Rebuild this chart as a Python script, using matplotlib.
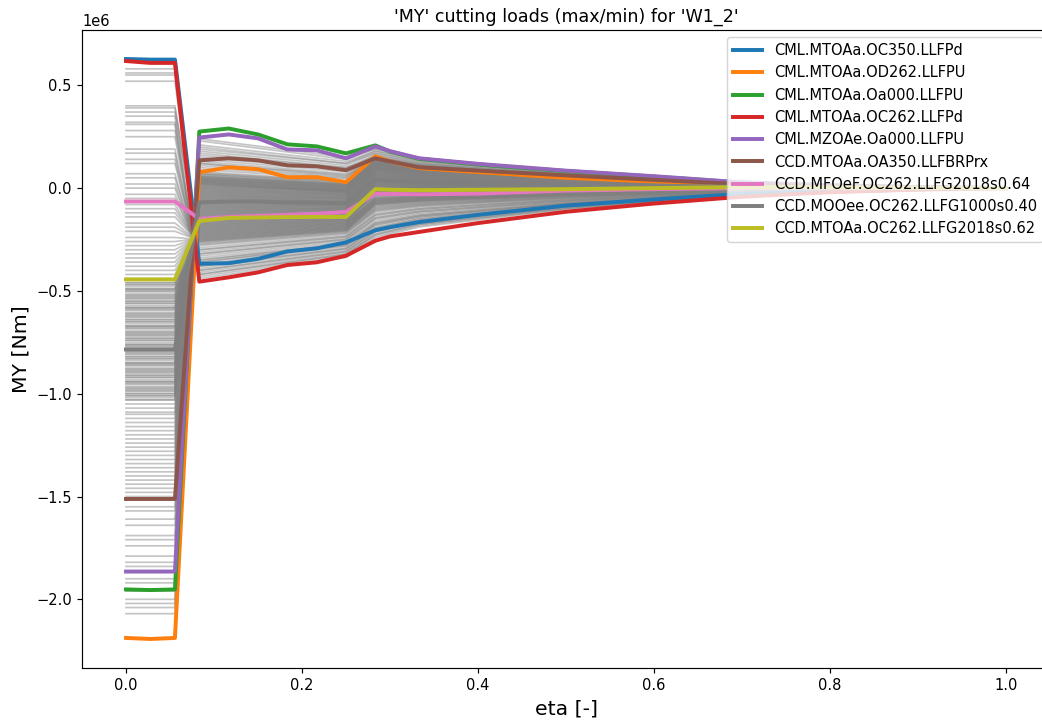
import numpy as np
import matplotlib
matplotlib.use("Agg")
import matplotlib.pyplot as plt

SCALE = 1e6  # values below are in MNm

# Spanwise stations of the cutting-load output
eta = [0.0, 0.0278, 0.0556, 0.0833, 0.1167, 0.15, 0.1833, 0.2167, 0.25,
       0.2833, 0.30, 0.3333, 0.40, 0.50, 0.60, 0.70, 0.80, 0.90, 1.0]

# Envelope-defining load cases
case_names = [
    "CML.MTOAa.OC350.LLFPd",
    "CML.MTOAa.OD262.LLFPU",
    "CML.MTOAa.Oa000.LLFPU",
    "CML.MTOAa.OC262.LLFPd",
    "CML.MZOAe.Oa000.LLFPU",
    "CCD.MTOAa.OA350.LLFBRPrx",
    "CCD.MFOeF.OC262.LLFG2018s0.64",
    "CCD.MOOee.OC262.LLFG1000s0.40",
    "CCD.MTOAa.OC262.LLFG2018s0.62",
]

my_oc350_llfpd = [0.628, 0.625, 0.625, -0.368, -0.365, -0.344, -0.308, -0.293, -0.264,
                  -0.205, -0.19, -0.165, -0.13, -0.085, -0.055, -0.028, -0.014, -0.005, 0.0]
my_od262_llfpu = [-2.188, -2.193, -2.188, 0.077, 0.101, 0.092, 0.053, 0.053, 0.029,
                  0.155, 0.13, 0.097, 0.078, 0.05, 0.032, 0.016, 0.008, 0.003, 0.0]
my_oa000_llfpu = [-1.952, -1.955, -1.952, 0.275, 0.290, 0.261, 0.213, 0.203, 0.169,
                  0.208, 0.178, 0.142, 0.115, 0.083, 0.056, 0.027, 0.013, 0.004, 0.0]
my_oc262_llfpd = [0.618, 0.609, 0.609, -0.455, -0.434, -0.410, -0.374, -0.361, -0.329,
                  -0.256, -0.235, -0.213, -0.17, -0.115, -0.075, -0.042, -0.02, -0.007, 0.0]
my_mzoae_llfpu = [-1.865, -1.865, -1.865, 0.246, 0.261, 0.242, 0.188, 0.184, 0.145,
                  0.203, 0.18, 0.145, 0.118, 0.085, 0.058, 0.028, 0.014, 0.005, 0.0]
my_oa350_llfbrprx = [-1.512, -1.512, -1.512, 0.135, 0.145, 0.135, 0.111, 0.106, 0.087,
                     0.145, 0.13, 0.101, 0.085, 0.062, 0.04, 0.019, 0.01, 0.004, 0.0]
my_mfoef_s064 = [-0.065, -0.065, -0.065, -0.150, -0.140, -0.135, -0.13, -0.125, -0.116,
                 -0.027, -0.028, -0.03, -0.027, -0.012, -0.005, 0.0, 0.0, 0.0, 0.0]
my_mooee_s040 = [-0.785, -0.785, -0.785, -0.07, -0.065, -0.065, -0.07, -0.07, -0.075,
                 0.04, 0.035, 0.03, 0.025, 0.018, 0.012, 0.006, 0.003, 0.001, 0.0]
my_mtoaa_s062 = [-0.444, -0.444, -0.444, -0.160, -0.145, -0.143, -0.141, -0.140, -0.140,
                 -0.005, -0.008, -0.01, -0.008, -0.005, 0.0, 0.005, 0.003, 0.001, 0.0]

case_values = [my_oc350_llfpd, my_od262_llfpu, my_oa000_llfpu, my_oc262_llfpd,
               my_mzoae_llfpu, my_oa350_llfbrprx, my_mfoef_s064, my_mooee_s040,
               my_mtoaa_s062]

# Remaining load cases (background), given at a reduced set of stations:
# root plateau, eta=0.0833, eta=0.25, eta=0.2833, then a common outboard decay
gray_eta = [0.0, 0.0556, 0.0833, 0.25, 0.2833, 0.3333, 0.50, 0.70, 1.0]
gray_root = [
    -2.07, -2.04, -2.02, -2.00, -1.96, -1.92, -1.90, -1.84, -1.82, -1.79, -1.74, -1.71,
    -1.69, -1.64, -1.61, -1.57, -1.55,
    -1.50, -1.48, -1.46, -1.44, -1.42, -1.40, -1.38, -1.36, -1.34, -1.32, -1.30, -1.28,
    -1.26, -1.24, -1.22, -1.20, -1.18, -1.16, -1.14, -1.12,
    -1.10, -1.09, -1.07, -1.05, -1.03, -1.01, -1.00, -0.98, -0.97, -0.95, -0.94, -0.92,
    -0.91, -0.89, -0.88, -0.86, -0.85, -0.83, -0.82, -0.80, -0.79, -0.77, -0.76, -0.74,
    -0.73, -0.71, -0.70, -0.68, -0.67, -0.65, -0.64, -0.62, -0.61, -0.59, -0.58, -0.56,
    -0.55, -0.53, -0.52, -0.50, -0.49, -0.47, -0.46,
    -0.44, -0.42, -0.40, -0.38, -0.36, -0.34, -0.32, -0.30, -0.28, -0.26, -0.24, -0.21,
    -0.19, -0.17, -0.14, -0.12, -0.10, -0.08, -0.05, -0.03, 0.00, 0.02, 0.05, 0.07,
    0.12, 0.14, 0.17, 0.19, 0.25, 0.28, 0.31, 0.32, 0.35, 0.37, 0.39, 0.40, 0.52, 0.55,
    0.56, 0.58,
    -0.46, -0.47, -0.48, -0.49, -0.495, -0.505, -0.515, -0.525,
    -0.535, -0.54, -0.55, -0.56, -0.57, -0.58, -0.585, -0.595,
    -0.605, -0.615, -0.625, -0.63, -0.64, -0.65, -0.66, -0.67,
    -0.675, -0.685, -0.695, -0.705, -0.715, -0.72, -0.73, -0.74,
    -0.75, -0.76, -0.765, -0.775, -0.785, -0.795, -0.805, -0.81,
    -0.82, -0.83, -0.84, -0.85, -0.855, -0.865, -0.875, -0.885,
    -0.895, -0.90, -0.91, -0.92, -0.93, -0.94, -0.945, -0.955,
    -0.965, -0.975, -0.985, -0.99, -1.00, -1.01, -1.02, -1.03,
]
gray_inner = [
    0.23, 0.21, 0.24, 0.19, 0.20, 0.17, 0.18, 0.15, 0.16, 0.13, 0.14, 0.12, 0.11, 0.12,
    0.10, 0.09, 0.08,
    0.075, 0.07, 0.068, 0.065, 0.06, 0.058, 0.055, 0.05, 0.048, 0.045, 0.042, 0.04,
    0.037, 0.035, 0.032, 0.03, 0.027, 0.025, 0.022, 0.02,
    0.015, 0.01, 0.005, 0.0, -0.005, -0.01, -0.015, -0.02, -0.025, -0.03, -0.035, -0.04,
    -0.045, -0.05, -0.055, -0.06, -0.065, -0.07, -0.075, -0.08, -0.085, -0.09, -0.095,
    -0.10, -0.105, -0.11, -0.115, -0.12, -0.125, -0.13, -0.135, -0.14, -0.145, -0.15,
    -0.155, -0.16, -0.165, -0.17, -0.175, -0.18, -0.185, -0.19, -0.195,
    -0.20, -0.205, -0.21, -0.215, -0.22, -0.225, -0.23, -0.235, -0.24, -0.245, -0.25,
    -0.255, -0.26, -0.265, -0.27, -0.275, -0.28, -0.29, -0.30, -0.31, -0.32, -0.33,
    -0.34, -0.35, -0.36, -0.37, -0.38, -0.39, -0.40, -0.41, -0.42, -0.43, -0.44, -0.35,
    -0.32, -0.30, -0.38, -0.42, -0.40, -0.36,
    -0.26, -0.255, -0.25, -0.245, -0.24, -0.235, -0.23, -0.225,
    -0.22, -0.215, -0.21, -0.205, -0.20, -0.195, -0.19, -0.185,
    -0.18, -0.175, -0.17, -0.165, -0.16, -0.155, -0.15, -0.145,
    -0.14, -0.135, -0.13, -0.125, -0.12, -0.115, -0.11, -0.105,
    -0.10, -0.095, -0.09, -0.085, -0.08, -0.075, -0.07, -0.065,
    -0.06, -0.055, -0.05, -0.045, -0.04, -0.035, -0.03, -0.025,
    -0.02, -0.015, -0.01, -0.005, 0.0, 0.005, 0.01, 0.015,
    0.02, 0.025, 0.03, 0.035, 0.04, 0.045, 0.05, 0.055,
]
gray_mid = [
    0.14, 0.13, 0.15, 0.12, 0.12, 0.10, 0.11, 0.09, 0.10, 0.07, 0.08, 0.065, 0.055, 0.06,
    0.05, 0.045, 0.035,
    0.03, 0.03, 0.025, 0.02, 0.02, 0.015, 0.015, 0.01, 0.01, 0.005, 0.005, 0.0, 0.0,
    -0.005, -0.005, -0.01, -0.01, -0.015, -0.015, -0.02,
    -0.01, -0.013, -0.016, -0.02, -0.024, -0.027, -0.031, -0.034, -0.038, -0.042, -0.045,
    -0.049, -0.052, -0.056, -0.06, -0.063, -0.067, -0.07, -0.074, -0.078, -0.081, -0.085,
    -0.088, -0.092, -0.096, -0.099, -0.103, -0.106, -0.11, -0.114, -0.117, -0.121, -0.124,
    -0.128, -0.132, -0.135, -0.139, -0.142, -0.146, -0.15, -0.153, -0.157, -0.16,
    -0.164, -0.168, -0.171, -0.175, -0.178, -0.182, -0.186, -0.189, -0.193, -0.196, -0.20,
    -0.204, -0.207, -0.211, -0.214, -0.218, -0.222, -0.229, -0.236, -0.243, -0.25, -0.258,
    -0.265, -0.272, -0.279, -0.286, -0.294, -0.30, -0.308, -0.315, -0.322, -0.33, -0.337,
    -0.272, -0.25, -0.236, -0.294, -0.322, -0.308, -0.279,
    -0.207, -0.203, -0.200, -0.196, -0.193, -0.189, -0.186, -0.182,
    -0.178, -0.175, -0.171, -0.168, -0.164, -0.160, -0.157, -0.153,
    -0.150, -0.146, -0.142, -0.139, -0.135, -0.132, -0.128, -0.124,
    -0.121, -0.117, -0.114, -0.110, -0.106, -0.103, -0.099, -0.096,
    -0.092, -0.088, -0.085, -0.081, -0.078, -0.074, -0.070, -0.067,
    -0.063, -0.060, -0.056, -0.052, -0.049, -0.045, -0.042, -0.038,
    -0.034, -0.031, -0.027, -0.024, -0.020, -0.016, -0.013, -0.009,
    -0.006, -0.002, 0.002, 0.005, 0.009, 0.012, 0.016, 0.020,
]
gray_kink = [
    0.19, 0.18, 0.19, 0.17, 0.18, 0.16, 0.17, 0.16, 0.15, 0.15, 0.14, 0.14, 0.15, 0.13,
    0.14, 0.13, 0.14,
    0.13, 0.125, 0.13, 0.12, 0.125, 0.12, 0.115, 0.12, 0.11, 0.115, 0.11, 0.105, 0.11,
    0.10, 0.105, 0.10, 0.095, 0.10, 0.09, 0.095,
    0.10, 0.096, 0.093, 0.09, 0.087, 0.084, 0.081, 0.078, 0.075, 0.072, 0.069, 0.066,
    0.063, 0.06, 0.057, 0.054, 0.051, 0.048, 0.045, 0.042, 0.039, 0.036, 0.033, 0.03,
    0.027, 0.024, 0.021, 0.018, 0.015, 0.012, 0.009, 0.006, 0.003, 0.0, -0.003, -0.006,
    -0.009, -0.012, -0.015, -0.018, -0.021, -0.024, -0.027,
    -0.05, -0.054, -0.058, -0.062, -0.066, -0.07, -0.074, -0.078, -0.082, -0.086, -0.09,
    -0.094, -0.098, -0.102, -0.106, -0.11, -0.114, -0.122, -0.13, -0.138, -0.146, -0.154,
    -0.162, -0.17, -0.178, -0.186, -0.194, -0.202, -0.21, -0.218, -0.226, -0.234, -0.242,
    -0.17, -0.146, -0.13, -0.194, -0.226, -0.21, -0.178,
    -0.080, -0.077, -0.073, -0.070, -0.066, -0.063, -0.059, -0.056,
    -0.052, -0.049, -0.045, -0.042, -0.038, -0.035, -0.031, -0.028,
    -0.024, -0.021, -0.017, -0.014, -0.010, -0.007, -0.003, 0.000,
    0.004, 0.007, 0.011, 0.014, 0.018, 0.021, 0.025, 0.028,
    0.032, 0.035, 0.039, 0.042, 0.046, 0.049, 0.053, 0.056,
    0.060, 0.063, 0.067, 0.070, 0.074, 0.077, 0.081, 0.084,
    0.088, 0.091, 0.095, 0.098, 0.102, 0.105, 0.109, 0.112,
    0.116, 0.119, 0.123, 0.126, 0.130, 0.133, 0.137, 0.140,
]
# Outboard decay relative to the value at eta = 0.2833
gray_taper = [1.0, 0.78, 0.43, 0.15, 0.0]

DPI = 105
fig = plt.figure(figsize=(1042 / DPI, 723 / DPI), dpi=DPI)
ax = fig.add_axes([0.0787, 0.0761, 0.929, 0.8824])

for root, inner, mid, kink in zip(gray_root, gray_inner, gray_mid, gray_kink):
    vals = [root, root, inner, mid] + [kink * t for t in gray_taper]
    ax.plot(gray_eta, np.array(vals) * SCALE, color="grey", lw=1.2, alpha=0.45, zorder=1)

for i, (name, vals) in enumerate(zip(case_names, case_values)):
    ax.plot(eta, np.array(vals) * SCALE, color=f"C{i}", lw=2.7, label=name, zorder=2)

ax.set_title("'MY' cutting loads (max/min) for 'W1_2'", fontsize=12)
ax.set_xlabel("eta [-]", fontsize=14)
ax.set_ylabel("MY [Nm]", fontsize=14)
ax.legend(loc="upper right", fontsize=10)

fig.savefig("out.png", dpi=DPI)
